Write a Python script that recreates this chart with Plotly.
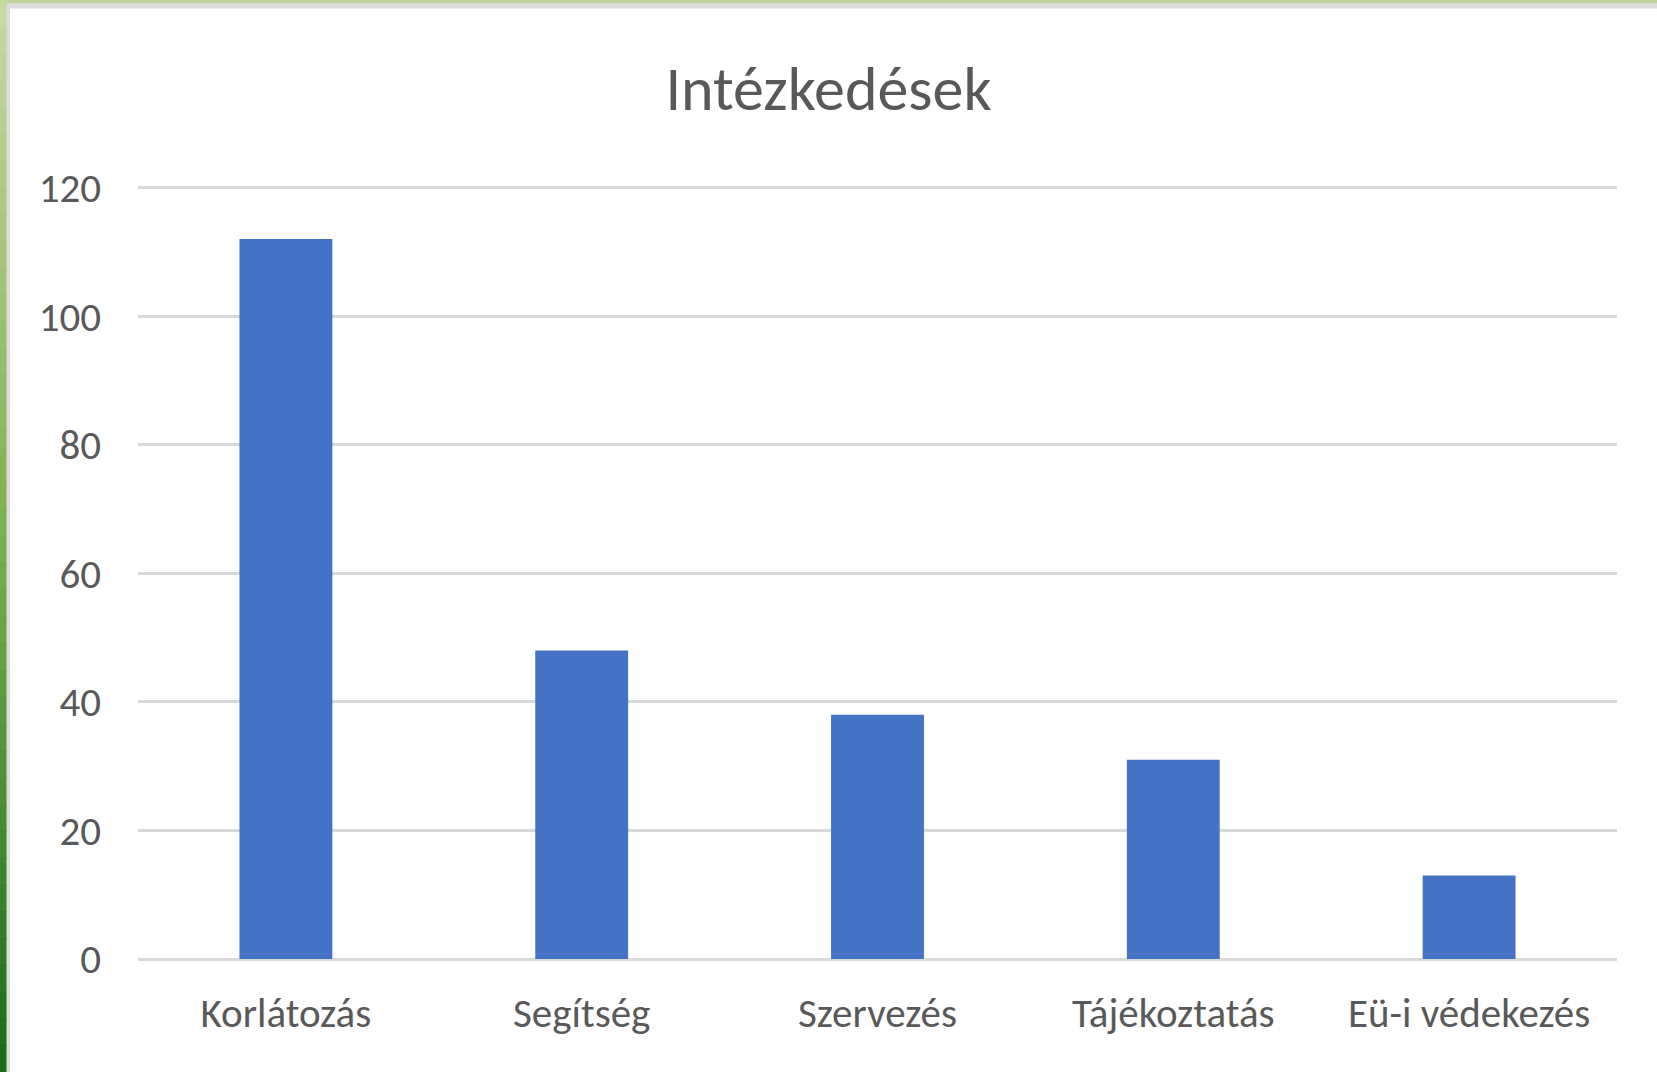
import plotly.graph_objects as go

categories = ["Korlátozás", "Segítség", "Szervezés", "Tájékoztatás", "Eü-i védekezés"]
values = [112, 48, 38, 31, 13]
y_ticks = [0, 20, 40, 60, 80, 100, 120]
title_text = "Intézkedések"

W, H = 1657, 1072
L, R, B = 138, 1617, 959
Y_MAX = 120.25
T = B - Y_MAX * (771 / 120)
FONT = "Carlito, Calibri, Lato, sans-serif"
TXT = "#595959"

fig = go.Figure(go.Bar(x=categories, y=values, marker=dict(color="#4472C4", line=dict(width=0)),
                       hoverinfo="skip"))

def px_x(p):
    return (p - L) / (R - L)

def px_y(p):
    return (B - p) / (B - T)

shapes = []
# gray inner border lines
shapes.append(dict(type="rect", xref="paper", yref="paper", x0=px_x(0), x1=px_x(W), y0=px_y(4), y1=px_y(9),
                   fillcolor="#dcdcdc", line=dict(width=0), layer="below"))
shapes.append(dict(type="rect", xref="paper", yref="paper", x0=px_x(6), x1=px_x(10), y0=px_y(4), y1=px_y(H),
                   fillcolor="#dcdcdc", line=dict(width=0), layer="below"))
# top green strip
shapes.append(dict(type="rect", xref="paper", yref="paper", x0=px_x(0), x1=px_x(W), y0=px_y(0), y1=px_y(4),
                   fillcolor="#c3d69f", line=dict(width=0), layer="below"))
# left green gradient strip
n = 40
c0 = (0xC6, 0xD9, 0xA3)
c1 = (0x7C, 0xB0, 0x4E)
c2 = (0x1A, 0x6E, 0x1A)
for i in range(n):
    t = i / (n - 1)
    if t < 0.5:
        u = t / 0.5
        c = tuple(int(c0[k] + (c1[k] - c0[k]) * u) for k in range(3))
    else:
        u = (t - 0.5) / 0.5
        c = tuple(int(c1[k] + (c2[k] - c1[k]) * u) for k in range(3))
    y0p = H * i / n
    y1p = H * (i + 1) / n + 1
    shapes.append(dict(type="rect", xref="paper", yref="paper", x0=px_x(0), x1=px_x(6.5), y0=px_y(y0p), y1=px_y(y1p),
                       fillcolor="rgb(%d,%d,%d)" % c, line=dict(width=0), layer="below"))

fig.update_layout(
    width=W, height=H,
    margin=dict(l=L, r=W - R, t=T, b=H - B, pad=0),
    paper_bgcolor="white", plot_bgcolor="white",
    bargap=0.686,
    showlegend=False,
    shapes=shapes,
    font=dict(family=FONT, color=TXT),
    title=dict(text=title_text, x=0.5, xref="container", xanchor="center",
               y=1 - 88 / H, yref="container", yanchor="middle",
               font=dict(family=FONT, size=62, color=TXT)),
)
fig.update_yaxes(range=[0, Y_MAX], tickvals=y_ticks, showgrid=True, gridcolor="#d9d9d9", gridwidth=3,
                 zeroline=True, zerolinecolor="#d9d9d9", zerolinewidth=3, showline=False,
                 ticks="", ticklabelstandoff=36, tickfont=dict(family=FONT, size=41, color=TXT), fixedrange=True)
fig.update_xaxes(showgrid=False, showline=False, ticks="", ticklabelstandoff=26,
                 tickfont=dict(family=FONT, size=41, color=TXT))

fig.write_html("out.html", config={"displayModeBar": False},
               post_script="document.body.style.margin='0';document.body.style.padding='0';")
